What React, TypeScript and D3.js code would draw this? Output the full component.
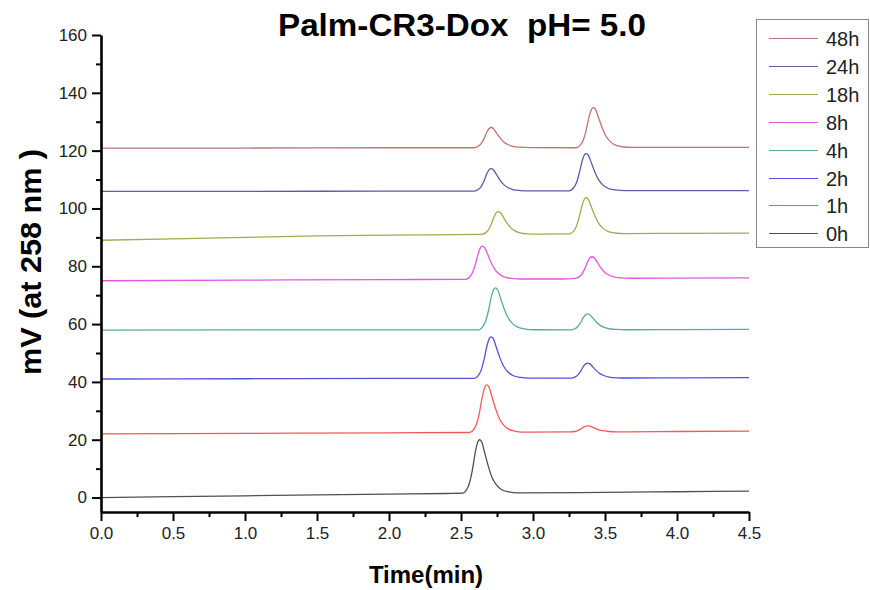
import * as d3 from "d3";
import { useEffect, useRef } from "react";

const width = 870;
const height = 590;

const labels = ["48h", "24h", "18h", "8h", "4h", "2h", "1h", "0h"];
const colors = ["#bc7676", "#5c5ca8", "#a8a84e", "#e058e0", "#58aaa2", "#5252e0", "#f05a5a", "#505050"];

const xTicks = [0, 0.5, 1, 1.5, 2, 2.5, 3, 3.5, 4, 4.5];
const yTicks = [0, 20, 40, 60, 80, 100, 120, 140, 160];

// [time (min), mV]
const s0h: [number, number][] = [
  [0, 0], [0.5, 0.3], [1, 0.6], [1.5, 0.9], [2, 1.2], [2.4, 1.4],
  [2.51, 1.5], [2.54, 2.8], [2.56, 5.2], [2.58, 9.8], [2.6, 15.9], [2.618, 19.4], [2.63, 20],
  [2.645, 19.1], [2.665, 15.4], [2.69, 10.8], [2.715, 7.05], [2.745, 4.46], [2.78, 2.8],
  [2.83, 1.96], [2.9, 1.6], [3.5, 1.8], [4, 2.0], [4.5, 2.2],
];
const s1h: [number, number][] = [
  [0, 22], [1, 22.2], [2, 22.4], [2.56, 22.5], [2.59, 23.66], [2.61, 25.8], [2.63, 29.93],
  [2.65, 35.37], [2.668, 38.5], [2.68, 39], [2.695, 38.18], [2.715, 34.88], [2.74, 30.75],
  [2.765, 27.45], [2.795, 25.14], [2.83, 23.66], [2.88, 22.91], [2.95, 22.6],
  [3.26, 22.7], [3.29, 22.85], [3.31, 23.12], [3.33, 23.65], [3.35, 24.34], [3.368, 24.74],
  [3.38, 24.8], [3.395, 24.7], [3.415, 24.28], [3.44, 23.75], [3.465, 23.33], [3.495, 23.04],
  [3.53, 22.85], [3.58, 22.75], [3.65, 22.72], [4, 22.85], [4.5, 23.0],
];
const s2h: [number, number][] = [
  [0, 41], [1, 41.1], [2, 41.2], [2.59, 41.2], [2.62, 42.21], [2.64, 44.08], [2.66, 47.68],
  [2.68, 52.43], [2.698, 55.17], [2.71, 55.6], [2.725, 54.88], [2.745, 52.0], [2.77, 48.4],
  [2.795, 45.52], [2.825, 43.5], [2.86, 42.21], [2.91, 41.56], [2.98, 41.3],
  [3.26, 41.3], [3.29, 41.66], [3.31, 42.34], [3.33, 43.64], [3.35, 45.36], [3.368, 46.34],
  [3.38, 46.5], [3.395, 46.24], [3.415, 45.2], [3.44, 43.9], [3.465, 42.86], [3.495, 42.13],
  [3.53, 41.66], [3.58, 41.43], [3.65, 41.35], [4, 41.4], [4.5, 41.5],
];
const s4h: [number, number][] = [
  [0, 57.9], [1, 58], [2, 58], [2.62, 58], [2.65, 59.02], [2.67, 60.9], [2.69, 64.53],
  [2.71, 69.31], [2.728, 72.07], [2.74, 72.5], [2.755, 71.78], [2.775, 68.88], [2.8, 65.25],
  [2.825, 62.35], [2.855, 60.32], [2.89, 59.02], [2.94, 58.36], [3.01, 58.05],
  [3.26, 58], [3.29, 58.39], [3.31, 59.1], [3.33, 60.48], [3.35, 62.29], [3.368, 63.34],
  [3.38, 63.5], [3.395, 63.23], [3.415, 62.13], [3.44, 60.75], [3.465, 59.65], [3.495, 58.88],
  [3.53, 58.39], [3.58, 58.14], [3.65, 58.05], [4, 58.1], [4.5, 58.2],
];
const s8h: [number, number][] = [
  [0, 75], [1, 75.2], [2, 75.4], [2.53, 75.5], [2.56, 76.31], [2.58, 77.8], [2.6, 80.68],
  [2.62, 84.47], [2.638, 86.66], [2.65, 87], [2.665, 86.43], [2.685, 84.13], [2.71, 81.25],
  [2.735, 78.95], [2.765, 77.34], [2.8, 76.31], [2.85, 75.79], [2.92, 75.6], [3.2, 75.6],
  [3.29, 75.8], [3.32, 76.33], [3.34, 77.3], [3.36, 79.18], [3.38, 81.65], [3.398, 83.08],
  [3.41, 83.3], [3.425, 82.93], [3.445, 81.43], [3.47, 79.55], [3.495, 78.05], [3.525, 77.0],
  [3.56, 76.33], [3.61, 75.99], [3.68, 75.85], [4, 75.9], [4.5, 76.0],
];
const s18h: [number, number][] = [
  [0, 89], [0.5, 89.5], [1, 90], [1.5, 90.5], [2, 90.8], [2.64, 91.0], [2.67, 91.55],
  [2.69, 92.58], [2.71, 94.56], [2.73, 97.16], [2.748, 98.66], [2.76, 98.9], [2.775, 98.51],
  [2.795, 96.93], [2.82, 94.95], [2.845, 93.37], [2.875, 92.26], [2.91, 91.55], [2.96, 91.2],
  [3.03, 91.1], [3.25, 91.2], [3.28, 92.08], [3.3, 93.7], [3.32, 96.83], [3.34, 100.95],
  [3.358, 103.33], [3.37, 103.7], [3.385, 103.08], [3.405, 100.58], [3.43, 97.45],
  [3.455, 94.95], [3.485, 93.2], [3.52, 92.08], [3.57, 91.51], [3.64, 91.3], [4, 91.4], [4.5, 91.5],
];
const s24h: [number, number][] = [
  [0, 105.9], [1, 105.9], [2, 106], [2.59, 106], [2.62, 106.55], [2.64, 107.56], [2.66, 109.51],
  [2.68, 112.08], [2.698, 113.57], [2.71, 113.8], [2.725, 113.41], [2.745, 111.85], [2.77, 109.9],
  [2.795, 108.34], [2.825, 107.25], [2.86, 106.55], [2.91, 106.2], [2.98, 106.05],
  [3.25, 106.1], [3.28, 107.0], [3.3, 108.68], [3.32, 111.91], [3.34, 116.16], [3.358, 118.61],
  [3.37, 119], [3.385, 118.36], [3.405, 115.78], [3.43, 112.55], [3.455, 109.97], [3.485, 108.16],
  [3.52, 107.0], [3.57, 106.42], [3.64, 106.15], [4, 106.2], [4.5, 106.2],
];
const s48h: [number, number][] = [
  [0, 120.9], [1, 120.9], [2, 121], [2.59, 121], [2.62, 121.49], [2.64, 122.4], [2.66, 124.15],
  [2.68, 126.46], [2.698, 127.79], [2.71, 128], [2.725, 127.65], [2.745, 126.25], [2.77, 124.5],
  [2.795, 123.1], [2.825, 122.12], [2.86, 121.49], [2.91, 121.18], [2.98, 121.05],
  [3.3, 121], [3.33, 121.97], [3.35, 123.78], [3.37, 127.26], [3.39, 131.84], [3.408, 134.48],
  [3.42, 134.9], [3.435, 134.21], [3.455, 131.43], [3.48, 127.95], [3.505, 125.17], [3.535, 123.22],
  [3.57, 121.97], [3.62, 121.35], [3.69, 121.1], [4, 121.1], [4.5, 121.1],
];

const series = [s48h, s24h, s18h, s8h, s4h, s2h, s1h, s0h];

const font = "Arial, 'Liberation Sans', sans-serif";

export default function App() {
  const ref = useRef<SVGSVGElement>(null);

  useEffect(() => {
    document.body.style.margin = "0";
    const svg = d3.select(ref.current);
    svg.selectAll("*").remove();

    const x = d3.scaleLinear().domain([0, 4.5]).range([101, 749]);
    const y = d3.scaleLinear().domain([-5, 160]).range([512, 35]);

    const line = d3
      .line<[number, number]>()
      .x((d) => x(d[0]))
      .y((d) => y(d[1]))
      .curve(d3.curveMonotoneX);

    svg
      .append("g")
      .selectAll("path")
      .data(series)
      .join("path")
      .attr("fill", "none")
      .attr("stroke", (_, i) => colors[i])
      .attr("stroke-width", 1.3)
      .attr("d", (d) => line(d));

    // minor ticks
    const minorX = xTicks.slice(0, -1).map((t) => t + 0.25);
    const minorY = yTicks.slice(0, -1).map((t) => t + 10);

    svg
      .append("g")
      .attr("transform", `translate(0,${y(-5)})`)
      .call(d3.axisBottom(x).tickValues(minorX).tickSize(5).tickSizeOuter(0).tickFormat(() => ""))
      .call((g) => g.select(".domain").remove())
      .call((g) => g.selectAll("line").attr("stroke-width", 2));

    svg
      .append("g")
      .attr("transform", `translate(${x(0)},0)`)
      .call(d3.axisLeft(y).tickValues(minorY).tickSize(5).tickSizeOuter(0).tickFormat(() => ""))
      .call((g) => g.select(".domain").remove())
      .call((g) => g.selectAll("line").attr("stroke-width", 2));

    svg
      .append("g")
      .attr("transform", `translate(0,${y(-5)})`)
      .call(
        d3.axisBottom(x).tickValues(xTicks).tickSize(9).tickSizeOuter(0).tickPadding(6)
          .tickFormat((d) => d3.format(".1f")(d as number))
      )
      .call((g) => g.select(".domain").attr("stroke-width", 2.6))
      .call((g) => g.selectAll("line").attr("stroke-width", 2))
      .call((g) => g.selectAll("text").attr("font-size", 17).attr("font-family", font).attr("fill", "#222"));

    svg
      .append("g")
      .attr("transform", `translate(${x(0)},0)`)
      .call(d3.axisLeft(y).tickValues(yTicks).tickSize(9).tickSizeOuter(0).tickPadding(5))
      .call((g) => g.select(".domain").attr("stroke-width", 2.6))
      .call((g) => g.selectAll("line").attr("stroke-width", 2))
      .call((g) => g.selectAll("text").attr("font-size", 17).attr("font-family", font).attr("fill", "#222"));

    // title
    svg
      .append("text")
      .attr("x", 462)
      .attr("y", 36)
      .attr("text-anchor", "middle")
      .attr("font-family", font)
      .attr("font-weight", "bold")
      .attr("font-size", 31)
      .attr("textLength", 368)
      .attr("lengthAdjust", "spacingAndGlyphs")
      .style("white-space", "pre")
      .text("Palm-CR3-Dox  pH= 5.0");

    svg
      .append("text")
      .attr("transform", `translate(41,262) rotate(-90)`)
      .attr("text-anchor", "middle")
      .attr("font-family", font)
      .attr("font-weight", "bold")
      .attr("font-size", 29)
      .attr("textLength", 226)
      .attr("lengthAdjust", "spacingAndGlyphs")
      .style("white-space", "pre")
      .text("mV (at 258 nm )");

    svg
      .append("text")
      .attr("x", 426)
      .attr("y", 583)
      .attr("text-anchor", "middle")
      .attr("font-family", font)
      .attr("font-weight", "bold")
      .attr("font-size", 24)
      .text("Time(min)");

    // legend
    const legend = svg.append("g");
    legend
      .append("rect")
      .attr("x", 756.5)
      .attr("y", 19.5)
      .attr("width", 112)
      .attr("height", 228)
      .attr("fill", "white")
      .attr("stroke", "#888")
      .attr("stroke-width", 1);

    const item = legend
      .selectAll("g")
      .data(labels)
      .join("g")
      .attr("transform", (_, i) => `translate(0,${Math.round(38 + i * 27.9) + 0.5})`);
    item
      .append("line")
      .attr("x1", 769)
      .attr("x2", 818)
      .attr("stroke", (_, i) => colors[i])
      .attr("stroke-width", 1.2);
    item
      .append("text")
      .attr("x", 826)
      .attr("dy", "0.36em")
      .attr("font-family", font)
      .attr("font-size", 20)
      .attr("fill", "#222")
      .text((d) => d);
  }, []);

  return <svg ref={ref} width={width} height={height} style={{ display: "block", background: "white" }} />;
}
